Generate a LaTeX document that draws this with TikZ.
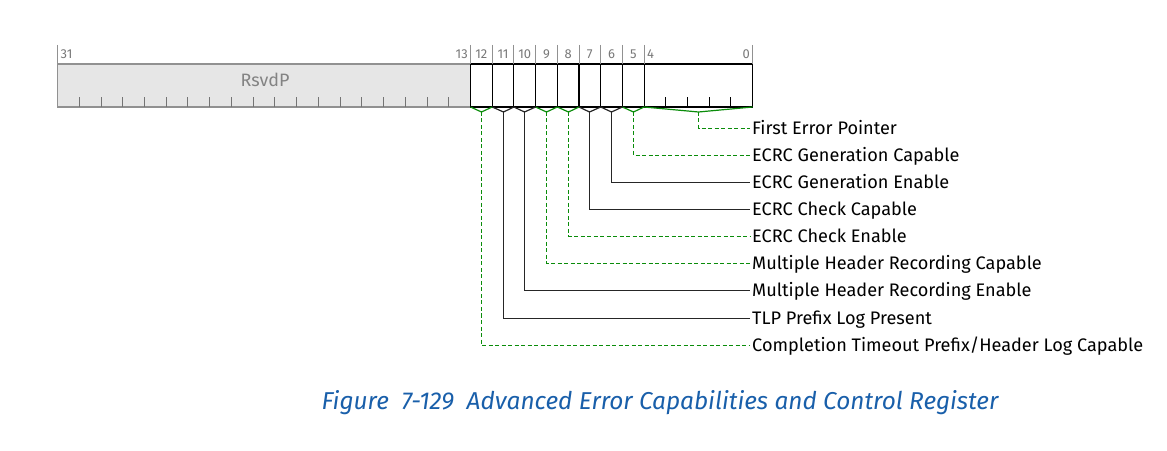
\documentclass[tikz,border=0pt]{standalone}
\usepackage{fontspec}
\setmainfont{Fira Sans}
\definecolor{rogreen}{RGB}{10,140,10}
\definecolor{numgray}{RGB}{120,120,120}
\definecolor{rsvdfill}{RGB}{230,230,230}
\definecolor{rsvdline}{RGB}{145,145,145}
\definecolor{capblue}{RGB}{25,95,170}
\tikzset{
  fieldlbl/.style={anchor=west,inner sep=0pt,text height=12pt,text depth=0pt,font=\fontsize{18.2}{18}\selectfont},
  bitnum/.style={text=numgray,inner sep=0pt,font=\fontsize{13}{13}\selectfont},
  rolink/.style={rogreen,line width=1.3bp,dash pattern=on 4bp off 2.5bp},
  rwlink/.style={black!85,line width=1.1bp},
  robrk/.style={rogreen,line width=1.2bp},
  rwbrk/.style={black!85,line width=1.2bp},
  sep/.style={rsvdline,line width=.9bp}
}
\begin{document}
\begin{tikzpicture}[x=1bp,y=-1bp]
  \useasboundingbox (0,0) rectangle (1167,451);
  % RsvdP field 31:13
  \draw[fill=rsvdfill,draw=rsvdline,line width=1.6bp] (57.5,64) rectangle (470.5,107);
  \foreach \k in {1,...,18}
    \draw[rsvdline!80!black,line width=.9bp] (57.5+\k*21.737,107)--++(0,-10);
  \node[text=rsvdline!90!black,inner sep=0pt,font=\fontsize{18}{18}\selectfont] (rsvd) at (265,80){RsvdP};
  % bits 12:0
  \draw[line width=1.6bp] (470.5,64) rectangle (752.6,107);
  \foreach \x in {492.2,513.9,535.6,557.3,579.0,600.7,622.4,644.1}
    \draw[line width=1.1bp] (\x,64)--(\x,107);
  \foreach \k in {1,...,4}
    \draw[line width=1.1bp] (644.1+\k*21.7,107)--++(0,-10);
  % bit numbers
  \foreach \x in {57.5,470.5,492.2,513.9,535.6,557.3,579.0,600.7,622.4,644.1,752.6}
    \draw[sep] (\x,45)--(\x,64);
  \node[bitnum,anchor=west] (n31) at (60.5,54){31};
  \node[bitnum,anchor=east] (n13) at (468,54){13};
  \node[bitnum] (n12) at (481.35,54){12};
  \node[bitnum] (n11) at (503.05,54){11};
  \node[bitnum] (n10) at (524.75,54){10};
  \node[bitnum] (n9) at (546.45,54){9};
  \node[bitnum] (n8) at (568.15,54){8};
  \node[bitnum] (n7) at (589.85,54){7};
  \node[bitnum] (n6) at (611.55,54){6};
  \node[bitnum] (n5) at (633.25,54){5};
  \node[bitnum,anchor=west] (n4) at (647,54){4};
  \node[bitnum,anchor=east] (n0) at (750,54){0};
  % field names
  \node[fieldlbl] (fep) at (752,128.5){First Error Pointer};
  \node[fieldlbl] (ecgc) at (752,155.5){ECRC Generation Capable};
  \node[fieldlbl] (ecge) at (752,182.5){ECRC Generation Enable};
  \node[fieldlbl] (eccc) at (752,209.5){ECRC Check Capable};
  \node[fieldlbl] (ecce) at (752,236.5){ECRC Check Enable};
  \node[fieldlbl] (mhrc) at (752,263.5){Multiple Header Recording Capable};
  \node[fieldlbl] (mhre) at (752,290.5){Multiple Header Recording Enable};
  \node[fieldlbl] (tlpp) at (752,318.5){TLP Prefix Log Present};
  \node[fieldlbl] (ctpl) at (752,345.5){Completion Timeout Prefix/Header Log Capable};
  % brackets under the bits
  \draw[robrk] (644.1,107)--(698.5,112)coordinate(b4)--(752.6,107);
  \draw[robrk] (622.4,107)--(633.5,112)coordinate(b5)--(644.1,107);
  \draw[rwbrk] (600.7,107)--(611.5,112)coordinate(b6)--(622.4,107);
  \draw[rwbrk] (579.0,107)--(589.5,112)coordinate(b7)--(600.7,107);
  \draw[robrk] (557.3,107)--(568.5,112)coordinate(b8)--(579.0,107);
  \draw[robrk] (535.6,107)--(546.5,112)coordinate(b9)--(557.3,107);
  \draw[rwbrk] (513.9,107)--(524.5,112)coordinate(b10)--(535.6,107);
  \draw[rwbrk] (492.2,107)--(503.5,112)coordinate(b11)--(513.9,107);
  \draw[robrk] (470.5,107)--(481.5,112)coordinate(b12)--(492.2,107);
  % connectors
  \draw[rolink] (b4) |- ([xshift=-2bp]fep.west);
  \draw[rolink] (b5) |- ([xshift=-2bp]ecgc.west);
  \draw[rwlink] (b6) |- ([xshift=-2bp]ecge.west);
  \draw[rwlink] (b7) |- ([xshift=-2bp]eccc.west);
  \draw[rolink] (b8) |- ([xshift=-2bp]ecce.west);
  \draw[rolink] (b9) |- ([xshift=-2bp]mhrc.west);
  \draw[rwlink] (b10) |- ([xshift=-2bp]mhre.west);
  \draw[rwlink] (b11) |- ([xshift=-2bp]tlpp.west);
  \draw[rolink] (b12) |- ([xshift=-2bp]ctpl.west);
  % caption
  \node[text=capblue,inner sep=0pt,font=\fontsize{24.5}{24}\selectfont\itshape] (cap) at (660,403)
    {Figure\ \ 7-129\ \ Advanced Error Capabilities and Control Register};
\end{tikzpicture}
\end{document}
